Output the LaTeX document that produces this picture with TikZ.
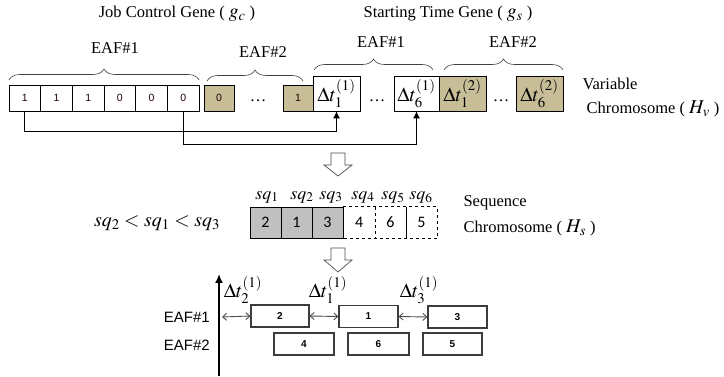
\documentclass[tikz,border=0pt]{standalone}
\usepackage{mathptmx}
\usepackage{fontspec}
\setmainfont{Liberation Serif}
\setsansfont{Liberation Sans}
\newfontfamily\calib{Carlito}
\usetikzlibrary{decorations.pathreplacing,arrows.meta}
\definecolor{tan}{RGB}{199,190,152}
\definecolor{sqgray}{RGB}{192,192,192}
\definecolor{boxline}{RGB}{60,60,60}
\newcommand{\bm}[1]{{\fontsize{19.5}{20}\selectfont$#1$}}
\tikzset{
  big/.style={font=\fontsize{16.5}{18}\selectfont},
  mth/.style={font=\fontsize{20}{22}\selectfont},
  cell/.style={draw, line width=0.8pt, minimum width=31.7pt, minimum height=26pt, inner sep=0pt,
    font=\sffamily\fontsize{10.5}{11}\selectfont, text=black!85!red},
  tcell/.style={cell, fill=tan, minimum width=30pt},
  dcell/.style={draw, line width=0.8pt, minimum height=35pt, inner sep=0pt, font=\fontsize{20}{22}\selectfont},
  brc/.style={decorate, decoration={brace, amplitude=11pt}, line width=0.6pt, draw=black!75},
  conn/.style={line width=0.8pt, -{Latex[length=7pt,width=7pt]}},
  hollow/.style={draw=black!70, line width=0.7pt, fill=white},
  scell/.style={minimum width=31pt, minimum height=31pt, inner sep=0pt, font=\calib\fontsize{16}{18}\selectfont},
  gbox/.style={draw=boxline, line width=1.1pt, minimum height=22pt, inner sep=0pt,
    font=\sffamily\bfseries\fontsize{10}{11}\selectfont},
  darr/.style={draw=black!70, line width=0.9pt, {Straight Barb[length=4pt,width=7pt]}-{Straight Barb[length=4pt,width=7pt]}},
  eaf/.style={font=\sffamily\fontsize{15}{17}\selectfont, anchor=east, inner sep=0pt}
}
\begin{document}
\begin{tikzpicture}[x=1pt,y=-1pt]
\useasboundingbox (0,0) rectangle (724,377);
% titles
\node[big] (jcg) at (177,14) {Job Control Gene ( \bm{g_c} )};
\node[big] (stg) at (448,14) {Starting Time Gene ( \bm{g_s} )};
% top row job control cells
\foreach \v [count=\i] in {1,1,1,0,0,0} {
  \node[cell] (c\i) at ({9+31.67*(\i-0.5)},98) {\v};
}
\node[tcell] (g0) at (219,98) {0};
\node[big] (dots1) at (258,101) {\dots};
\node[tcell] (g1) at (298,98) {1};
% starting time cells
\node[dcell, minimum width=47pt] (dt1) at (336.5,93.5) {$\Delta t_1^{(1)}$};
\node[big] (dots2) at (377,101) {\dots};
\node[dcell, minimum width=45pt] (dt6) at (416.5,93.5) {$\Delta t_6^{(1)}$};
\node[dcell, minimum width=47pt, fill=tan] (et1) at (462.5,93.5) {$\Delta t_1^{(2)}$};
\node[big] (dots3) at (501,101) {\dots};
\node[dcell, minimum width=47pt, fill=tan] (et6) at (539.5,93.5) {$\Delta t_6^{(2)}$};
\node[big, anchor=west] (var) at (579,84) {Variable};
\node[big, anchor=west] (chv) at (583,109) {Chromosome ( \bm{H_v} )};
% braces
\draw[brc] (9,80) -- (199,80);
\node[big] (eaf1a) at (115,48) {EAF\#1};
\draw[brc] (207,81) -- (303,81);
\node[big] (eaf2a) at (263,52) {EAF\#2};
\draw[brc] (314,70) -- (433,70);
\node[big] (eaf1b) at (381,42) {EAF\#1};
\draw[brc] (444,70) -- (563,70);
\node[big] (eaf2b) at (513,42) {EAF\#2};
% connectors
\draw[conn] (c1.south) -- ++(0,20) -| (dt1.south);
\draw[conn] (c6.south) -- ++(0,33) -| (dt6.south);
% hollow arrow 1
\draw[hollow] (331,153) -- (345,153) -- (345,165) -- (352,165) -- (338,176) -- (324,165) -- (331,165) -- cycle;
% sequence chromosome
\node[mth] (ineq) at (157,223) {$sq_2 < sq_1 < sq_3$};
\foreach \v [count=\i] in {2,1,3} {
  \node[scell, draw, line width=0.8pt, fill=sqgray] (s\i) at ({250+31*(\i-0.5)},222.5) {\v};
}
\node[scell, minimum width=31.5pt] (s4) at (359.25,222.5) {4};
\node[scell] (s5) at (390.5,222.5) {6};
\node[scell] (s6) at (421.5,222.5) {5};
\draw[line width=0.8pt, dashed] (s4.north west) -- (s6.north east) -- (s6.south east) -- (s4.south west);
\draw[line width=0.8pt, dashed] (s4.north east) -- (s4.south east);
\draw[line width=0.8pt] (s5.north east) -- (s5.south east);
\foreach \x [count=\i] in {267,302,331,363,393,421} {
  \node[font=\fontsize{18}{20}\selectfont] (q\i) at (\x,197) {$sq_{\i}$};
}
\node[big, anchor=west] (seqt) at (460,203) {Sequence};
\node[big, anchor=west] (chs) at (460,228) {Chromosome ( \bm{H_s} )};
% hollow arrow 2
\draw[hollow] (331,248) -- (345,248) -- (345,260) -- (352,260) -- (338,272) -- (324,260) -- (331,260) -- cycle;
% bottom schedule
\coordinate (axb) at (219,376);
\coordinate (axt) at (219,274);
\draw[line width=1.6pt, -{Latex[length=9pt,width=8pt]}] (axb) -- (axt);
\node[eaf] (l1) at (210,317) {EAF\#1};
\node[eaf] (l2) at (210,345) {EAF\#2};
\node[gbox, minimum width=58pt] (b2) at (280,316) {2};
\node[gbox, minimum width=59pt] (b1) at (368.5,316.5) {1};
\node[gbox, minimum width=59pt] (b3) at (457.5,317) {3};
\node[gbox, minimum width=60pt] (b4) at (304,344) {4};
\node[gbox, minimum width=61pt] (b6) at (378.5,344) {6};
\node[gbox, minimum width=59pt] (b5) at (452.5,344) {5};
\coordinate (da0) at (222,317);
\draw[darr] (da0) -- (b2.west);
\draw[darr] (b2.east) -- (b1.west);
\draw[darr] (b1.east) -- (b3.west);
\node[mth] (d2) at (243,290) {$\Delta t_2^{(1)}$};
\node[mth] (d1) at (328,290) {$\Delta t_1^{(1)}$};
\node[mth] (d3) at (419,290) {$\Delta t_3^{(1)}$};
\end{tikzpicture}
\end{document}
